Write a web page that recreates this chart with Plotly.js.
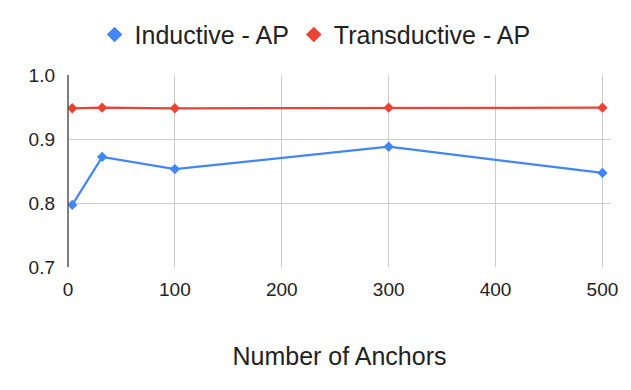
<!DOCTYPE html>
<html><head><meta charset="utf-8">
<script src="https://cdn.plot.ly/plotly-3.0.1.min.js"></script>
<style>body{margin:0;padding:0;}#chart{width:631px;height:390px;}</style>
</head><body><div id="chart"></div>
<script>
const anchors = [4, 32, 100, 300, 500];
const inductiveAP = [0.797, 0.872, 0.853, 0.888, 0.847];
const transductiveAP = [0.948, 0.949, 0.948, 0.949, 0.949];
const xTicks = [0, 100, 200, 300, 400, 500];
const yTicks = [0.7, 0.8, 0.9, 1.0];
const seriesNames = ['Inductive - AP', 'Transductive - AP'];
const seriesColors = ['#4285f4', '#ea4335'];
const seriesValues = [inductiveAP, transductiveAP];

const traces = [];
seriesValues.forEach((vals, i) => {
  traces.push({x: anchors, y: vals, name: seriesNames[i], mode: 'lines', type: 'scatter', showlegend: false,
    line: {color: seriesColors[i], width: 2.2}, legendgroup: 'g' + i});
});
seriesValues.forEach((vals, i) => {
  traces.push({x: anchors, y: vals, name: seriesNames[i], mode: 'markers', type: 'scatter', showlegend: true,
    marker: {symbol: 'diamond', size: 8, color: seriesColors[i]}, legendgroup: 'g' + i});
});
const layout = {
  width: 631, height: 390,
  margin: {l: 68, r: 20, t: 75, b: 123},
  paper_bgcolor: '#fff', plot_bgcolor: '#fff',
  font: {family: '"Liberation Sans", Arial, sans-serif', color: '#222', size: 19},
  showlegend: true,
  legend: {orientation: 'h', x: 0.455, xanchor: 'center', y: 1.21, yanchor: 'middle', font: {size: 25},
           itemwidth: 30, itemsizing: 'constant'},
  xaxis: {range: [0, 508], tickvals: xTicks, ticktext: xTicks.map(String), showgrid: true, gridcolor: '#cccccc',
          zeroline: false, showline: false, ticks: '', tickfont: {size: 19}, ticklabelstandoff: 9,
          title: {text: 'Number of Anchors', font: {size: 25}, standoff: 48}},
  yaxis: {range: [0.7, 1.0], tickvals: yTicks, ticktext: ['0.7','0.8','0.9','1.0'], showgrid: true, gridcolor: '#cccccc',
          zeroline: false, showline: false, ticks: '', tickfont: {size: 19}, ticklabelstandoff: 12},
  shapes: [{type: 'line', xref: 'paper', yref: 'paper', x0: 0, x1: 0, y0: 0, y1: 1, line: {color: '#555', width: 1.5}}]
};
Plotly.newPlot('chart', traces, layout, {displayModeBar: false, staticPlot: true});
</script></body></html>
